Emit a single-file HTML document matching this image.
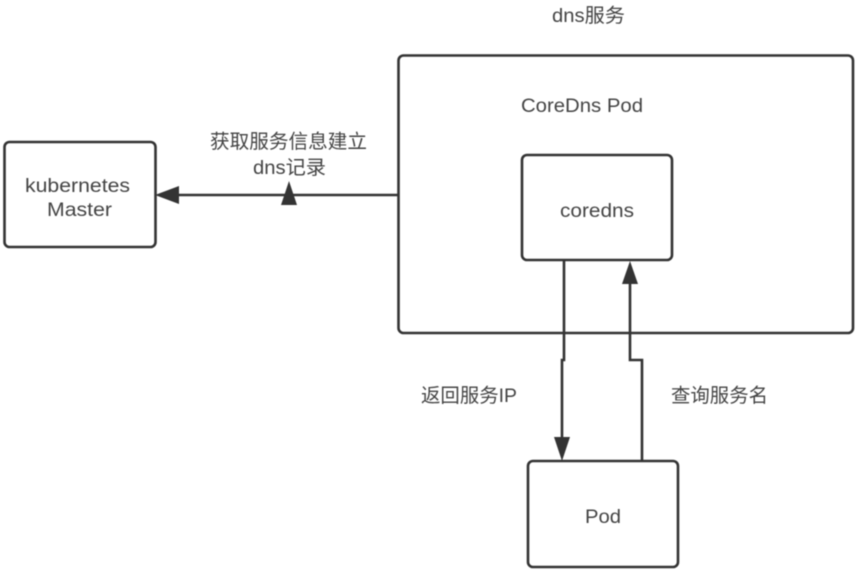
<!DOCTYPE html>
<html>
<head>
<meta charset="utf-8">
<style>
html,body{margin:0;padding:0;background:#fff;}
body{width:857px;height:574px;overflow:hidden;}
svg{display:block;filter:blur(0.4px);}
text{font-family:"Liberation Sans","Noto Sans CJK SC",sans-serif;font-size:19.5px;fill:#444;}
</style>
</head>
<body>
<svg width="857" height="574" viewBox="0 0 857 574" xmlns="http://www.w3.org/2000/svg">
<g fill="#fff" stroke="#333" stroke-width="2.6">
<rect x="398.500" y="55.500" width="454.500" height="277.500" rx="5"/>
<rect x="4.500" y="142" width="151" height="105" rx="5"/>
<rect x="522" y="155" width="150" height="105" rx="5"/>
<rect x="528" y="461" width="150" height="106" rx="5"/>
</g>
<g fill="none" stroke="#333" stroke-width="2.6">
<path d="M398 195H175"/>
<path d="M564 261V360H562V440"/>
<path d="M642 461V360H630V282"/>
</g>
<g fill="#333">
<path d="M155 195L179 186V204Z"/>
<path d="M289 181L297 205H281Z"/>
<path d="M562 461L554 437H570Z"/>
<path d="M630 261L638 284H622Z"/>
</g>
<text x="552" y="22" textLength="73" lengthAdjust="spacingAndGlyphs">dns服务</text>
<text x="521" y="112" textLength="122" lengthAdjust="spacingAndGlyphs">CoreDns Pod</text>
<text x="210" y="148" textLength="157" lengthAdjust="spacingAndGlyphs">获取服务信息建立</text>
<text x="253" y="174" textLength="73" lengthAdjust="spacingAndGlyphs">dns记录</text>
<text x="25" y="192" textLength="105" lengthAdjust="spacingAndGlyphs">kubernetes</text>
<text x="47" y="216" textLength="65" lengthAdjust="spacingAndGlyphs">Master</text>
<text x="560" y="217" textLength="74" lengthAdjust="spacingAndGlyphs">coredns</text>
<text x="421" y="402" textLength="96" lengthAdjust="spacingAndGlyphs">返回服务IP</text>
<text x="671" y="402" textLength="97" lengthAdjust="spacingAndGlyphs">查询服务名</text>
<text x="585" y="523" textLength="36" lengthAdjust="spacingAndGlyphs">Pod</text>
</svg>
</body>
</html>
